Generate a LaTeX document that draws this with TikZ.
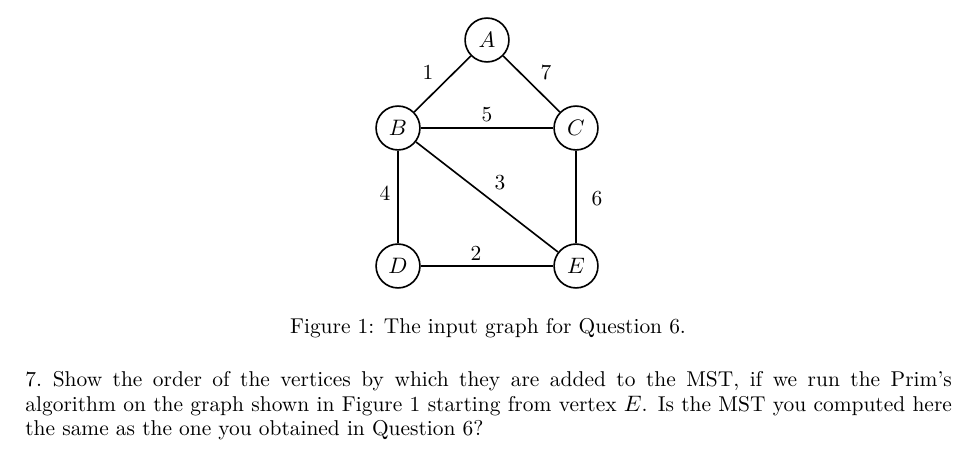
\documentclass[tikz,border=0pt]{standalone}
\begin{document}
\begin{tikzpicture}[x=0.49pt,y=-0.49pt,font=\fontsize{10.5}{12}\selectfont,
  vert/.style={draw,circle,thick,minimum size=21.5pt,inner sep=0pt},
  edge/.style={thick},
  lab/.style={inner sep=1pt}]
\useasboundingbox (0,0) rectangle (979,470);
\node[vert] (A) at (487,40) {$A$};
\node[vert] (B) at (398,128) {$B$};
\node[vert] (C) at (576,128) {$C$};
\node[vert] (D) at (398,266) {$D$};
\node[vert] (E) at (576,266) {$E$};
\draw[edge] (A) -- (B);
\draw[edge] (A) -- (C);
\draw[edge] (B) -- (C);
\draw[edge] (B) -- (E);
\draw[edge] (B) -- (D);
\draw[edge] (C) -- (E);
\draw[edge] (D) -- (E);
\node[lab] (l1) at (428,72) {1};
\node[lab] (l7) at (546,72) {7};
\node[lab] (l5) at (487,115) {5};
\node[lab] (l3) at (500,183) {3};
\node[lab] (l4) at (385,193) {4};
\node[lab] (l6) at (597,199) {6};
\node[lab] (l2) at (476,253) {2};
\node (cap) at (488,328) {Figure 1: The input graph for Question 6.};
\node[anchor=north west,text width=454pt,align=justify,inner sep=0pt] (q) at (25,371)
{7.\enspace Show the order of the vertices by which they are added to the MST, if we run the Prim's\linebreak algorithm on the graph shown in Figure 1 starting from vertex $E$. Is the MST you computed here\linebreak the same as the one you obtained in Question 6?};
\end{tikzpicture}
\end{document}
